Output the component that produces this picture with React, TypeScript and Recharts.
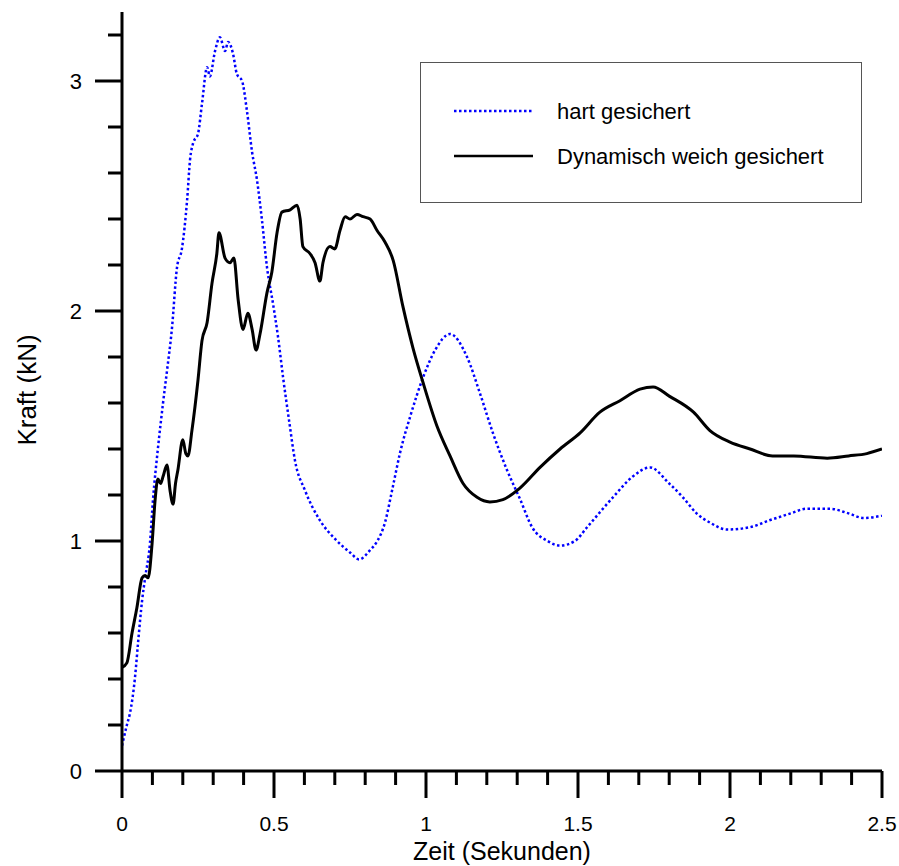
import React from 'react';
import { LineChart, Line, XAxis, YAxis, Legend } from 'recharts';

const FONT = "'Liberation Sans', Arial, Helvetica, sans-serif";

const hartName = 'hart gesichert';
const weichName = 'Dynamisch weich gesichert';

const hartT = [0, 0.016, 0.026, 0.043, 0.053, 0.066, 0.076, 0.092, 0.102, 0.118, 0.135, 0.148, 0.164, 0.181, 0.197, 0.214, 0.224, 0.234, 0.25, 0.263, 0.28, 0.289, 0.306, 0.322, 0.339, 0.349, 0.365, 0.378, 0.395, 0.411, 0.428, 0.444, 0.46, 0.477, 0.497, 0.513, 0.53, 0.55, 0.569, 0.602, 0.651, 0.7, 0.75, 0.78, 0.816, 0.84, 0.865, 0.89, 0.914, 0.95, 0.99, 1.03, 1.079, 1.135, 1.178, 1.22, 1.266, 1.31, 1.349, 1.4, 1.44, 1.49, 1.53, 1.615, 1.68, 1.737, 1.8, 1.845, 1.89, 1.934, 1.99, 2.066, 2.13, 2.2, 2.25, 2.33, 2.39, 2.44, 2.5];
const hartKraft = [0.11, 0.2, 0.25, 0.41, 0.56, 0.74, 0.84, 0.99, 1.18, 1.4, 1.6, 1.74, 1.92, 2.19, 2.27, 2.48, 2.66, 2.73, 2.77, 2.9, 3.06, 3.02, 3.13, 3.19, 3.13, 3.17, 3.12, 3.03, 3.0, 2.87, 2.69, 2.57, 2.4, 2.19, 2.03, 1.89, 1.71, 1.52, 1.35, 1.22, 1.09, 1.01, 0.95, 0.92, 0.96, 1.0, 1.08, 1.23, 1.38, 1.55, 1.71, 1.83, 1.9, 1.8, 1.64, 1.47, 1.31, 1.18, 1.06, 1.0, 0.98, 1.0, 1.06, 1.19, 1.28, 1.32, 1.25, 1.19, 1.12, 1.08, 1.05, 1.06, 1.09, 1.12, 1.14, 1.14, 1.12, 1.1, 1.11];

const weichT = [0, 0.016, 0.033, 0.049, 0.066, 0.076, 0.086, 0.099, 0.109, 0.118, 0.127, 0.135, 0.148, 0.158, 0.168, 0.176, 0.184, 0.2, 0.21, 0.217, 0.23, 0.25, 0.263, 0.28, 0.296, 0.312, 0.319, 0.339, 0.355, 0.368, 0.382, 0.398, 0.414, 0.428, 0.441, 0.454, 0.477, 0.493, 0.51, 0.526, 0.553, 0.576, 0.586, 0.595, 0.618, 0.635, 0.651, 0.661, 0.684, 0.7, 0.717, 0.734, 0.75, 0.773, 0.793, 0.816, 0.839, 0.865, 0.892, 0.924, 0.957, 0.99, 1.036, 1.079, 1.122, 1.168, 1.21, 1.253, 1.309, 1.375, 1.441, 1.507, 1.572, 1.638, 1.704, 1.747, 1.8, 1.88, 1.934, 2.0, 2.066, 2.14, 2.21, 2.32, 2.39, 2.45, 2.5];
const weichKraft = [0.45, 0.47, 0.6, 0.71, 0.84, 0.85, 0.84, 0.99, 1.18, 1.27, 1.25, 1.28, 1.33, 1.22, 1.16, 1.25, 1.31, 1.44, 1.38, 1.37, 1.48, 1.7, 1.87, 1.95, 2.12, 2.25, 2.34, 2.23, 2.21, 2.23, 2.05, 1.92, 1.99, 1.92, 1.83, 1.9, 2.08, 2.17, 2.34, 2.43, 2.44, 2.46, 2.4, 2.28, 2.25, 2.21, 2.13, 2.21, 2.28, 2.27, 2.35, 2.41, 2.4, 2.42, 2.41, 2.4, 2.35, 2.3, 2.22, 2.02, 1.84, 1.69, 1.5, 1.37, 1.25, 1.19, 1.17, 1.18, 1.23, 1.32, 1.4, 1.47, 1.56, 1.61, 1.66, 1.67, 1.63, 1.56, 1.48, 1.43, 1.4, 1.37, 1.37, 1.36, 1.37, 1.38, 1.4];

const xTicks = [0, 0.1, 0.2, 0.3, 0.4, 0.5, 0.6, 0.7, 0.8, 0.9, 1, 1.1, 1.2, 1.3, 1.4, 1.5, 1.6, 1.7, 1.8, 1.9, 2, 2.1, 2.2, 2.3, 2.4, 2.5];
const xMajorLabels = ['0', '0.5', '1', '1.5', '2', '2.5'];
const yTicks = [0, 0.2, 0.4, 0.6, 0.8, 1, 1.2, 1.4, 1.6, 1.8, 2, 2.2, 2.4, 2.6, 2.8, 3, 3.2];
const yMajorLabels = ['0', '1', '2', '3'];

const hartData = hartT.map((t, i) => ({ t, kraft: hartKraft[i] }));
const weichData = weichT.map((t, i) => ({ t, kraft: weichKraft[i] }));

const fmt = (v: number) => String(Math.round(v * 10) / 10);

const XTick = (props: any) => {
  const { x, y, payload } = props;
  const v = payload.value as number;
  const label = fmt(v);
  const major = xMajorLabels.includes(label);
  return (
    <g>
      <line x1={x} x2={x} y1={y} y2={y + (major ? 27 : 14)} stroke="#000" strokeWidth={3} />
      {major && (
        <text x={x} y={y + 60} textAnchor="middle" fontSize={21} fontFamily={FONT} fill="#000">
          {label}
        </text>
      )}
    </g>
  );
};

const YTick = (props: any) => {
  const { x, y, payload } = props;
  const v = payload.value as number;
  const label = fmt(v);
  const major = yMajorLabels.includes(label);
  return (
    <g>
      <line x1={x - (major ? 27 : 14)} x2={x} y1={y} y2={y} stroke="#000" strokeWidth={3} />
      {major && (
        <text x={x - 40} y={y + 8} textAnchor="end" fontSize={22} fontFamily={FONT} fill="#000">
          {label}
        </text>
      )}
    </g>
  );
};

const renderLegend = () => (
  <div
    style={{
      width: 442,
      height: 141,
      border: '1.5px solid #555',
      boxSizing: 'border-box',
      background: '#fff',
    }}
  >
    <svg width={440} height={139} style={{ display: 'block' }}>
      <line x1={33} x2={112} y1={48} y2={48} stroke="#0000ff" strokeWidth={2.5} strokeDasharray="2.5 2.5" />
      <text x={136} y={56} fontSize={22} fontFamily={FONT} fill="#000">{hartName}</text>
      <line x1={33} x2={112} y1={93} y2={93} stroke="#000" strokeWidth={2.5} />
      <text x={136} y={101} fontSize={22} fontFamily={FONT} fill="#000">{weichName}</text>
    </svg>
  </div>
);

export default function App() {
  return (
    <div style={{ position: 'absolute', left: 0, top: 0, background: '#fff' }}>
      <LineChart width={899} height={866} margin={{ top: 12, right: 17, left: 62, bottom: 35 }}>
        <XAxis
          type="number"
          dataKey="t"
          domain={[0, 2.5]}
          ticks={xTicks}
          interval={0}
          tick={<XTick />}
          tickLine={false}
          tickSize={0}
          tickMargin={0}
          axisLine={{ stroke: '#000', strokeWidth: 3 }}
          height={60}
          allowDataOverflow
          label={() => (
            <text x={502} y={860} textAnchor="middle" fontSize={25} fontFamily={FONT} fill="#000">
              Zeit (Sekunden)
            </text>
          )}
        />
        <YAxis
          type="number"
          dataKey="kraft"
          domain={[0, 3.3]}
          ticks={yTicks}
          interval={0}
          tick={<YTick />}
          tickLine={false}
          tickSize={0}
          tickMargin={0}
          axisLine={{ stroke: '#000', strokeWidth: 3 }}
          width={60}
          allowDataOverflow
          label={() => (
            <text x={36} y={390} transform="rotate(-90 36 390)" textAnchor="middle" fontSize={26} fontFamily={FONT} fill="#000">
              Kraft (kN)
            </text>
          )}
        />
        <Legend
          layout="vertical"
          align="center"
          verticalAlign="middle"
          content={renderLegend}
          wrapperStyle={{ position: 'absolute', left: 420, top: 62, width: 442, height: 141 }}
        />
        <Line
          data={hartData}
          dataKey="kraft"
          name={hartName}
          type="monotone"
          stroke="#0000ff"
          strokeWidth={2.5}
          strokeDasharray="2.5 2.5"
          dot={false}
          activeDot={false}
          isAnimationActive={false}
        />
        <Line
          data={weichData}
          dataKey="kraft"
          name={weichName}
          type="monotone"
          stroke="#000"
          strokeWidth={3}
          dot={false}
          activeDot={false}
          isAnimationActive={false}
        />
      </LineChart>
    </div>
  );
}
